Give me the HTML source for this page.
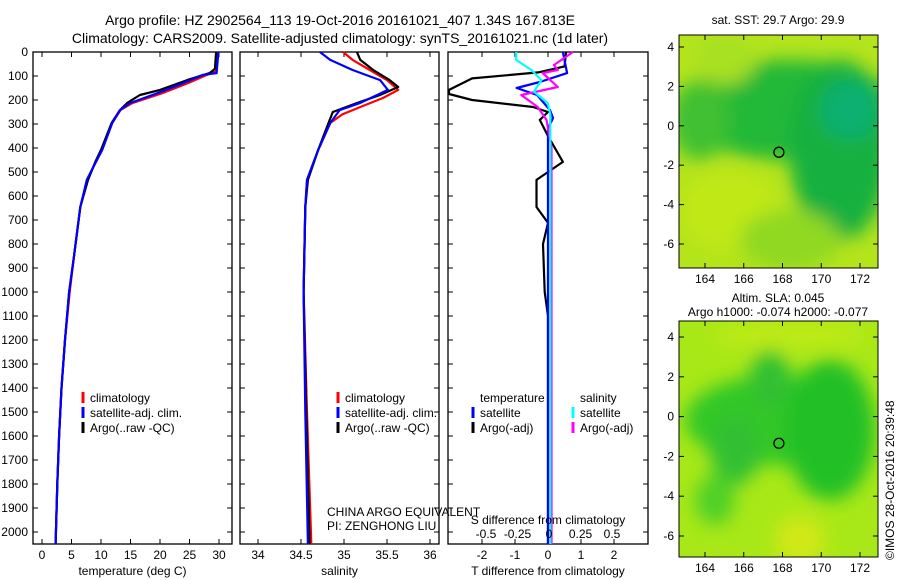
<!DOCTYPE html>
<html><head><meta charset="utf-8"><style>
body{margin:0;background:#fff}
svg{display:block;font-family:"Liberation Sans",sans-serif}
</style></head><body>
<svg id="c" width="900" height="580" xmlns="http://www.w3.org/2000/svg">
<defs>
<filter id="bl" x="-50%" y="-50%" width="200%" height="200%"><feGaussianBlur stdDeviation="9"/></filter>
<clipPath id="m1"><rect x="679" y="35" width="199" height="233"/></clipPath>
<clipPath id="m2"><rect x="679" y="321" width="199" height="236"/></clipPath>
</defs>
<g clip-path="url(#m1)">
<rect x="679" y="35" width="199" height="233" fill="#b4e41c"/>
<g filter="url(#bl)">
<ellipse cx="790" cy="110" rx="110" ry="50" fill="#20b838"/>
<ellipse cx="840" cy="150" rx="50" ry="90" fill="#18b040"/>
<ellipse cx="700" cy="120" rx="30" ry="40" fill="#40c030"/>
<ellipse cx="850" cy="110" rx="30" ry="30" fill="#10b070"/>
<ellipse cx="725" cy="60" rx="30" ry="25" fill="#a8e020"/>
<ellipse cx="730" cy="210" rx="50" ry="40" fill="#c0e818"/>
<ellipse cx="790" cy="240" rx="50" ry="30" fill="#90d820"/>
</g>
</g>
<g clip-path="url(#m2)">
<rect x="679" y="321" width="199" height="236" fill="#a8e818"/>
<g filter="url(#bl)">
<ellipse cx="780" cy="420" rx="95" ry="45" fill="#30c828"/>
<ellipse cx="830" cy="430" rx="45" ry="70" fill="#20c028"/>
<ellipse cx="735" cy="450" rx="25" ry="35" fill="#30c030"/>
<ellipse cx="770" cy="380" rx="20" ry="30" fill="#30c030"/>
<ellipse cx="715" cy="500" rx="20" ry="25" fill="#50d028"/>
<ellipse cx="800" cy="540" rx="25" ry="25" fill="#d0e818"/>
<ellipse cx="790" cy="335" rx="80" ry="12" fill="#c0ea18"/>
</g>
</g>
<g id="plots"></g>
</svg>
<script>
const depthTicks=[0,100,200,300,400,500,600,700,800,900,1000,1100,1200,1300,1400,1500,1600,1700,1800,1900,2000];
const tempTicks=[0,5,10,15,20,25,30];
const salTicks=[34,34.5,35,35.5,36];
const salTickLabels=["34","34.5","35","35.5","36"];
const tDiffTicks=[-2,-1,0,1,2];
const sDiffTicks=[-0.5,-0.25,0,0.25,0.5];
const sDiffTickLabels=["-0.5","-0.25","0","0.25","0.5"];
const tempClim=[[0,29.7],[80,29.5],[95,28],[130,24.7],[172,20.3],[213,15.3],[242,13.3],[296,11.9],[408,10.2],[479,8.7],[533,7.7],[646,6.5],[854,5.4],[1000,4.7],[1200,3.9],[1400,3.3],[1600,2.9],[1800,2.6],[2050,2.3]];
const tempSat=[[0,29.9],[88,29.6],[95,27.3],[130,23.9],[172,19.5],[213,14.9],[242,13.2],[296,11.9],[408,10.2],[479,8.7],[533,7.6],[646,6.5],[854,5.4],[1000,4.6],[1200,3.9],[1400,3.3],[1600,2.9],[1800,2.6],[2050,2.3]];
const tempArgo=[[0,29.5],[70,29.3],[88,28.4],[117,24.6],[158,20],[179,16.6],[213,14.4],[242,13.2],[296,11.8],[408,10],[460,9],[533,7.8],[646,6.5],[854,5.4],[1000,4.6],[1200,3.9],[1400,3.3],[1600,2.9],[1800,2.6],[2050,2.3]];
const salClim=[[0,34.99],[33,35.1],[75,35.3],[117,35.5],[158,35.63],[192,35.45],[229,35.19],[260,34.98],[296,34.84],[408,34.7],[533,34.57],[646,34.55],[1000,34.53],[1500,34.57],[2050,34.62]];
const salSat=[[0,34.72],[33,34.84],[75,35.1],[117,35.42],[158,35.51],[212,35.19],[242,34.95],[296,34.84],[408,34.7],[533,34.57],[646,34.55],[1000,34.53],[1500,34.55],[2050,34.58]];
const salArgo=[[0,35.15],[33,35.19],[75,35.34],[117,35.53],[146,35.63],[179,35.42],[213,35.15],[250,34.87],[296,34.82],[408,34.7],[533,34.58],[646,34.55],[1000,34.53],[1500,34.56],[2050,34.6]];
const tDiffSat=[[0,0.45],[88,0.58],[125,-0.25],[150,-0.95],[179,-0.33],[242,0.06],[275,0.15],[320,0],[2050,0]];
const tDiffArgo=[[0,0.55],[60,0.5],[85,-0.3],[110,-2.3],[158,-3.0],[175,-3.0],[200,-2.3],[229,-0.45],[250,0],[283,-0.25],[350,0],[458,0.45],[533,-0.35],[646,-0.35],[712,0],[800,-0.15],[1000,-0.1],[1100,0],[2050,0]];
const sDiffSat=[[0,-0.26],[33,-0.26],[75,-0.14],[117,-0.06],[165,-0.12],[213,-0.01],[260,0.01],[2050,0.01]];
const sDiffArgo=[[0,0.19],[54,0.04],[75,0.07],[88,-0.05],[146,0.07],[179,-0.22],[229,-0.09],[283,-0.02],[400,0.02],[2050,0.02]];

const NS="http://www.w3.org/2000/svg";
const root=document.getElementById('plots');
function el(t,a,p){const e=document.createElementNS(NS,t);for(const k in a)e.setAttribute(k,a[k]);(p||root).appendChild(e);return e;}
function txt(x,y,s,anchor,size,p){const e=el('text',{x:x,y:y,'text-anchor':anchor||'start','font-size':size||12,fill:'#000'},p);e.textContent=s;return e;}
const Y0=52,Y1=544;
const yD=d=>Y0+d*(Y1-Y0)/2050;
function lin(d0,d1,r0,r1){return v=>r0+(v-d0)*(r1-r0)/(d1-d0);}
const panels=[
 {name:'temperature-panel',x0:33,x1:232,sx:lin(0,30,42,219),ticks:tempTicks,labels:tempTicks.map(String),title:'temperature (deg C)'},
 {name:'salinity-panel',x0:240,x1:439,sx:lin(34,36,258,430),ticks:salTicks,labels:salTickLabels,title:'salinity'},
 {name:'difference-panel',x0:448,x1:648,sx:lin(-2,2,482,614),ticks:tDiffTicks,labels:tDiffTicks.map(String),title:'T difference from climatology'}
];
panels.forEach((p,i)=>{
 const g=el('g',{});
 
 
 el('rect',{x:p.x0,y:Y0,width:p.x1-p.x0,height:Y1-Y0,fill:'none',stroke:'#000','stroke-width':1.3},g);
 depthTicks.forEach(d=>{
  el('line',{x1:p.x0,x2:p.x0+5,y1:yD(d),y2:yD(d),stroke:'#000'},g);
  el('line',{x1:p.x1,x2:p.x1-5,y1:yD(d),y2:yD(d),stroke:'#000'},g);
  if(i==0){const t=txt(28,yD(d)+4,String(d),'end',12,g);}
 });
 p.ticks.forEach((v,k)=>{
  const x=p.sx(v);
  el('line',{x1:x,x2:x,y1:Y1,y2:Y1-5,stroke:'#000'},g);
  el('line',{x1:x,x2:x,y1:Y0,y2:Y0+5,stroke:'#000'},g);
  const t=txt(x,559,p.labels[k],'middle',12,g);
  
  
 });
 const t=txt((p.x0+p.x1)/2,575,p.title,'middle',12,g);
 
 
});
function line(data,sx,color,name,w){
 const pts=data.map(d=>sx(d[1]).toFixed(1)+','+yD(d[0]).toFixed(1)).join(' ');
 const e=el('polyline',{points:pts,fill:'none',stroke:color,'stroke-width':w||2.2,'stroke-linejoin':'round'});
 
 
}
const sT=panels[0].sx,sS=panels[1].sx,sTD=panels[2].sx,sSD=lin(-0.5,0.5,486,612);
line(tempClim,sT,'#f00','temp-climatology-line');
line(tempArgo,sT,'#000','temp-argo-line');
line(tempSat,sT,'#00f','temp-satellite-line');
line(salClim,sS,'#f00','sal-climatology-line');
line(salArgo,sS,'#000','sal-argo-line');
line(salSat,sS,'#00f','sal-satellite-line');
line(tDiffArgo,sTD,'#000','tdiff-argo-line');
line(tDiffSat,sTD,'#00f','tdiff-satellite-line');
line(sDiffArgo,sSD,'#f0f','sdiff-argo-line');
line(sDiffSat,sSD,'#0ff','sdiff-satellite-line');
sDiffTicks.forEach((v,k)=>{const t=txt(sSD(v),538,sDiffTickLabels[k],'middle',12);});
{const t=txt(548,524,'S difference from climatology','middle',12);}
function legend(x,y,items,name){
 const g=el('g',{});
 
 
 items.forEach((it,k)=>{
  if(it[1])el('line',{x1:x,x2:x,y1:y+k*15-10,y2:y+k*15+1,stroke:it[1],'stroke-width':3},g);
  txt(x+7,y+k*15,it[0],'start',12,g);
 });
}
legend(83,402,[['climatology','#f00'],['satellite-adj. clim.','#00f'],['Argo(..raw -QC)','#000']],'temp-legend');
legend(338,402,[['climatology','#f00'],['satellite-adj. clim.','#00f'],['Argo(..raw -QC)','#000']],'sal-legend');
legend(473,402,[['temperature',null],['satellite','#00f'],['Argo(-adj)','#000']],'tdiff-legend');
legend(573,402,[['salinity',null],['satellite','#0ff'],['Argo(-adj)','#f0f']],'sdiff-legend');
txt(327,516,'CHINA ARGO EQUIVALENT','start',12);
txt(327,530,'PI: ZENGHONG LIU','start',12);
txt(340,25,'Argo profile: HZ 2902564_113 19-Oct-2016 20161021_407 1.34S 167.813E','middle',14);
txt(340,43,'Climatology: CARS2009. Satellite-adjusted climatology: synTS_20161021.nc (1d later)','middle',14);
const lonTicks=[164,166,168,170,172];
function map(y0,y1,name,lat4y,latm6y){
 const g=el('g',{});
 
 
 const sx=lin(164,172,705,860),sy=lin(4,-6,lat4y,latm6y);
 el('circle',{cx:sx(167.813),cy:sy(-1.34),r:5,fill:'none',stroke:'#000','stroke-width':1.3},g);
 el('rect',{x:679,y:y0,width:199,height:y1-y0,fill:'none',stroke:'#000'},g);
 lonTicks.forEach(v=>{el('line',{x1:sx(v),x2:sx(v),y1:y1,y2:y1-5,stroke:'#000'},g);el('line',{x1:sx(v),x2:sx(v),y1:y0,y2:y0+5,stroke:'#000'},g);txt(sx(v),y1+15,String(v),'middle',12,g);});
 [4,2,0,-2,-4,-6].forEach(v=>{el('line',{x1:679,x2:684,y1:sy(v),y2:sy(v),stroke:'#000'},g);el('line',{x1:878,x2:873,y1:sy(v),y2:sy(v),stroke:'#000'},g);txt(674,sy(v)+4,String(v),'end',12,g);});
}
map(35,268,'sst-map',47,244);
map(321,557,'sla-map',337,536);
txt(778,24,'sat. SST: 29.7  Argo: 29.9','middle',12);
txt(778,302,'Altim. SLA: 0.045','middle',12);
txt(778,316,'Argo h1000: -0.074 h2000: -0.077','middle',12);
const c=txt(0,0,'©IMOS 28-Oct-2016 20:39:48','start',12);
c.setAttribute('transform','translate(894,560) rotate(-90)');
</script>
</body></html>
